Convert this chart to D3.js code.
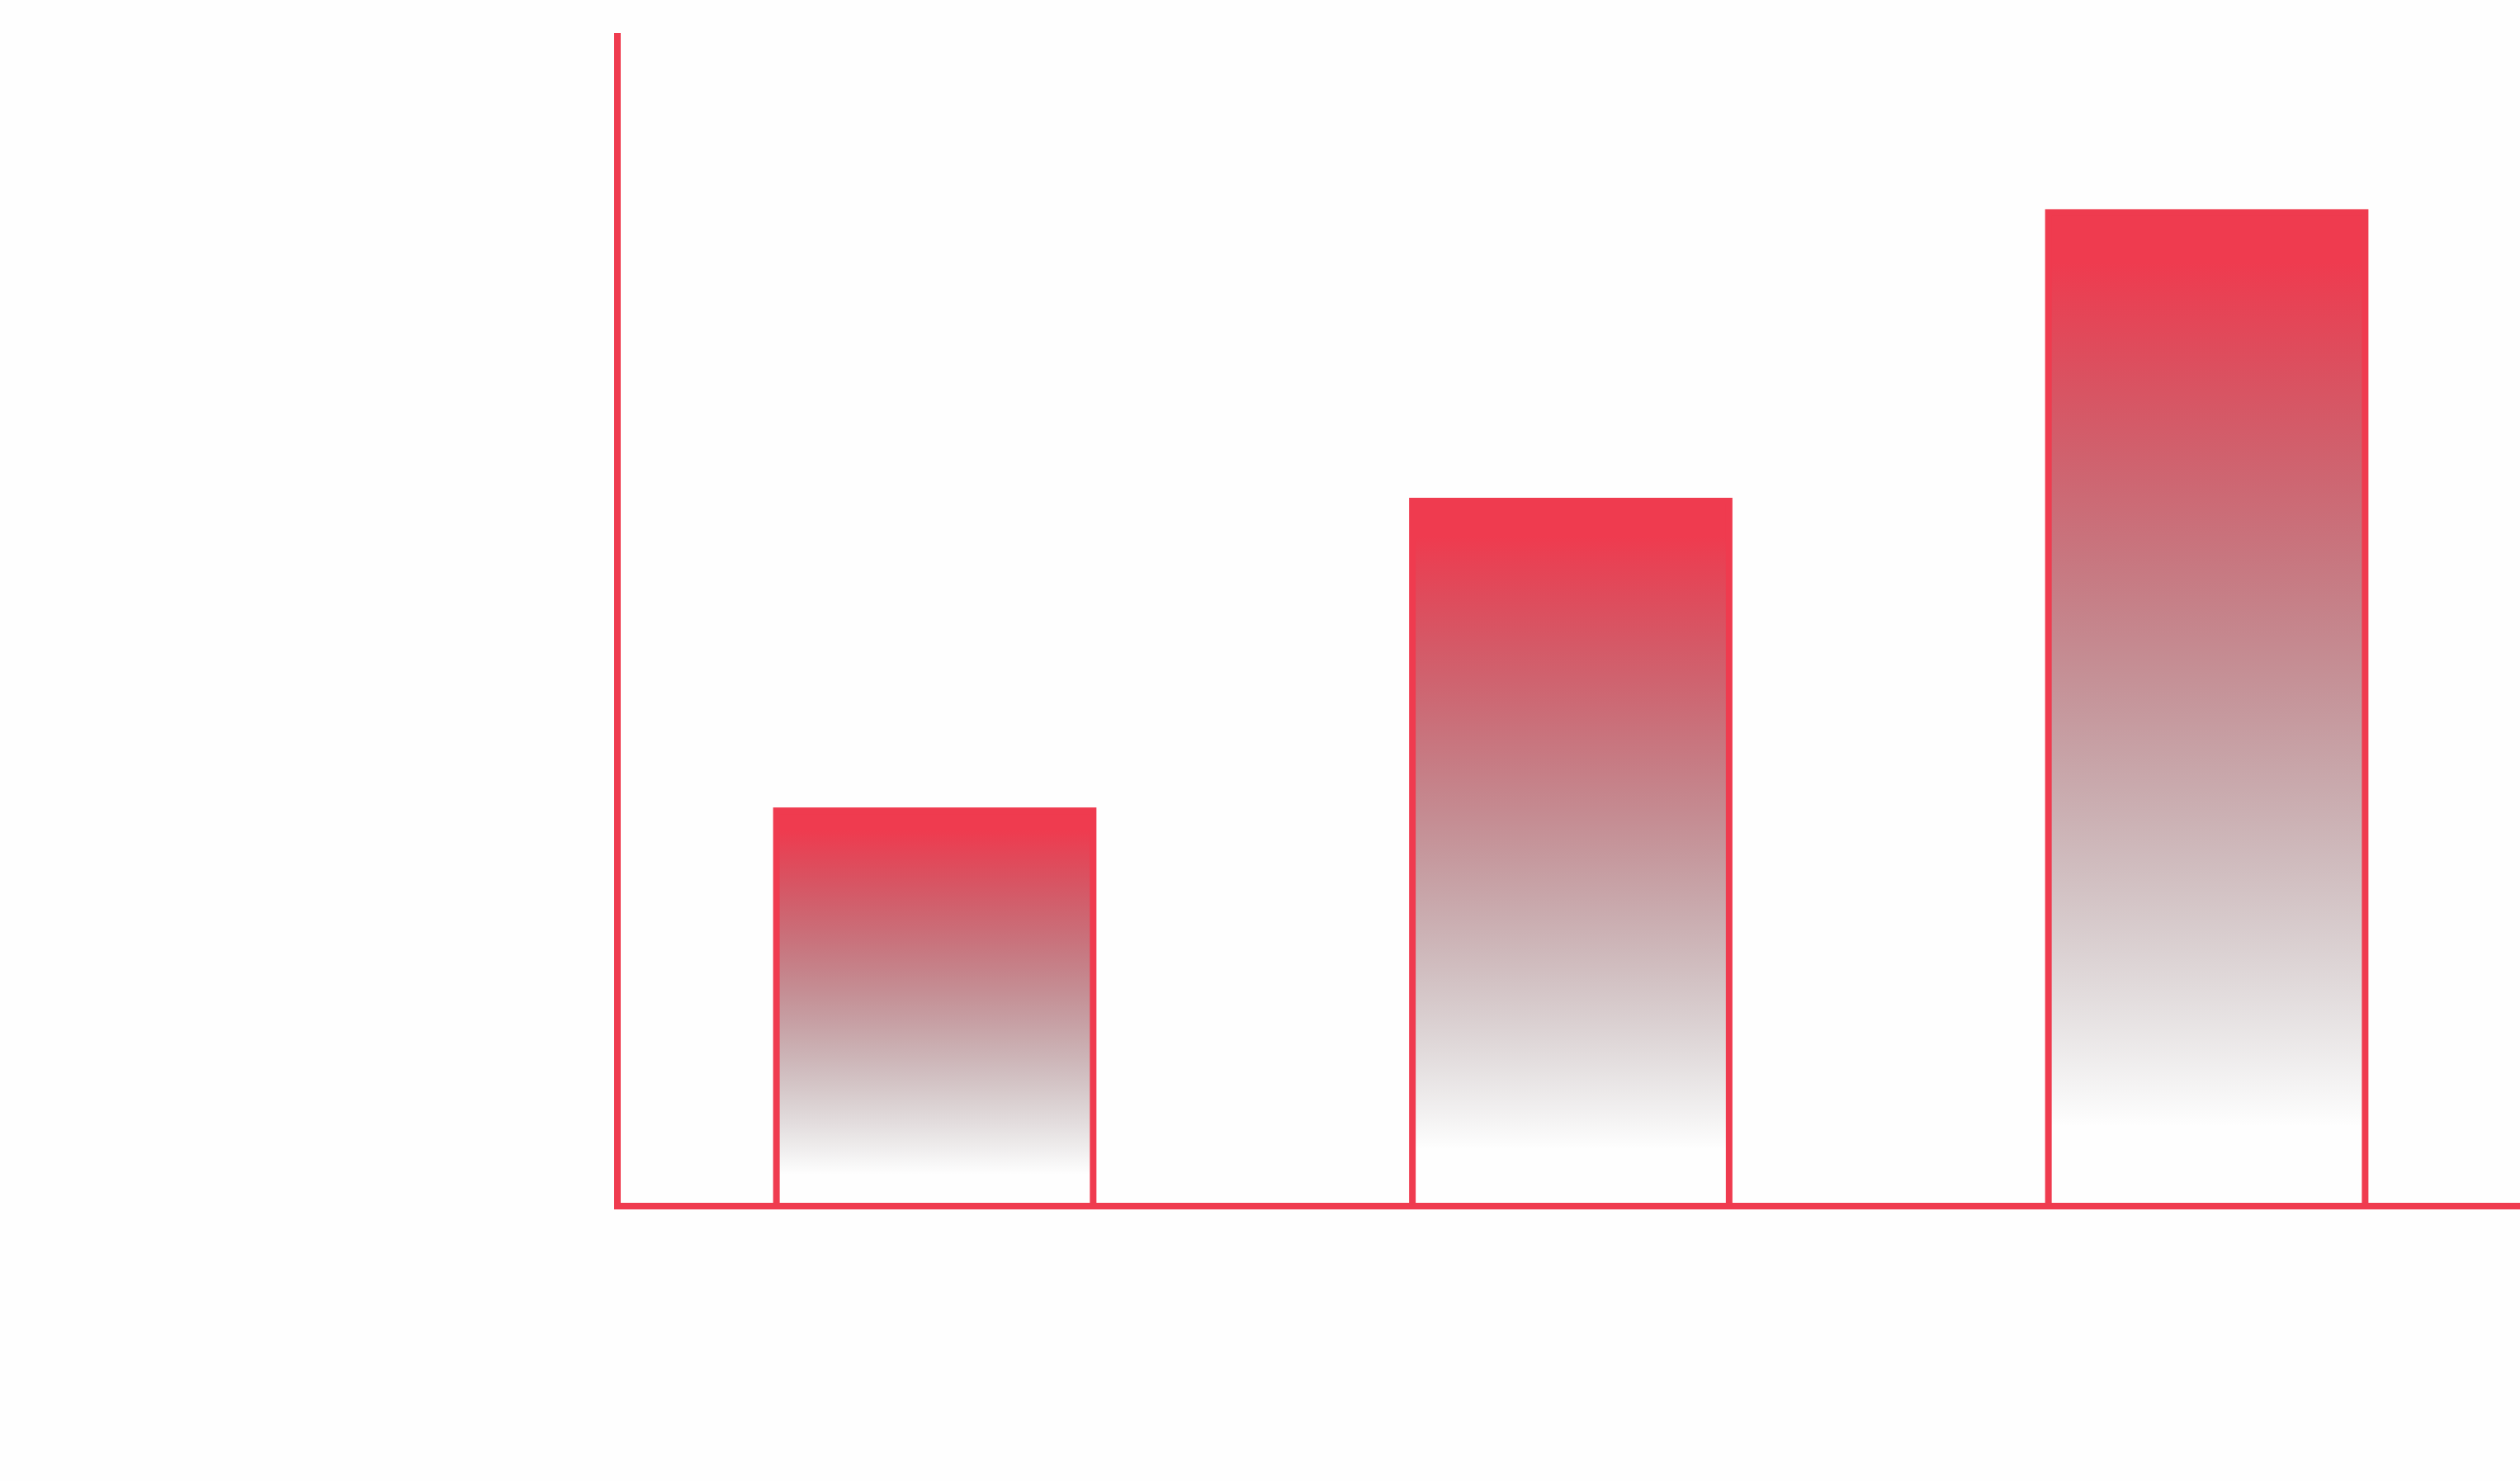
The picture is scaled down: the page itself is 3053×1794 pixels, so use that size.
<!DOCTYPE html>
<html>
<head>
<meta charset="utf-8">
<script src="https://cdn.jsdelivr.net/npm/d3@7/dist/d3.min.js"></script>
<style>
  html, body { margin: 0; padding: 0; background: #fefefe; }
  svg { display: block; }
</style>
</head>
<body>
<svg id="chart" width="3053" height="1794"></svg>
<script>
const categories = ["A", "B", "C"];
const values = [33.7, 60.1, 84.7];
const yDomain = [0, 100];

const W = 3053, H = 1794;
const red = "#ef3b4f";
const svg = d3.select("#chart");

const x = d3.scaleBand().domain(categories).range([748, 3058]).paddingInner(0.502).paddingOuter(0.25);
const y = d3.scaleLinear().domain(yDomain).range([1461, 40]);

const defs = svg.append("defs");
const grad = defs.append("linearGradient").attr("id", "barGrad")
  .attr("x1", 0).attr("y1", 0).attr("x2", 0).attr("y2", 1);
grad.append("stop").attr("offset", "5%").attr("stop-color", red).attr("stop-opacity", 1);
grad.append("stop").attr("offset", "92%").attr("stop-color", "#2a1a1c").attr("stop-opacity", 0);

svg.append("g").selectAll("rect").data(values).join("rect")
  .attr("x", (d, i) => x(categories[i]))
  .attr("width", x.bandwidth())
  .attr("y", d => y(d))
  .attr("height", d => y(0) - y(d))
  .attr("fill", "url(#barGrad)")
  .attr("stroke", red)
  .attr("stroke-width", 8);

// y axis line
svg.append("line")
  .attr("x1", 748).attr("x2", 748)
  .attr("y1", y.range()[1]).attr("y2", y(0) + 4)
  .attr("stroke", red).attr("stroke-width", 8);
// x axis line
svg.append("line")
  .attr("x1", 744).attr("x2", W)
  .attr("y1", y(0)).attr("y2", y(0))
  .attr("stroke", red).attr("stroke-width", 8);
</script>
</body>
</html>
